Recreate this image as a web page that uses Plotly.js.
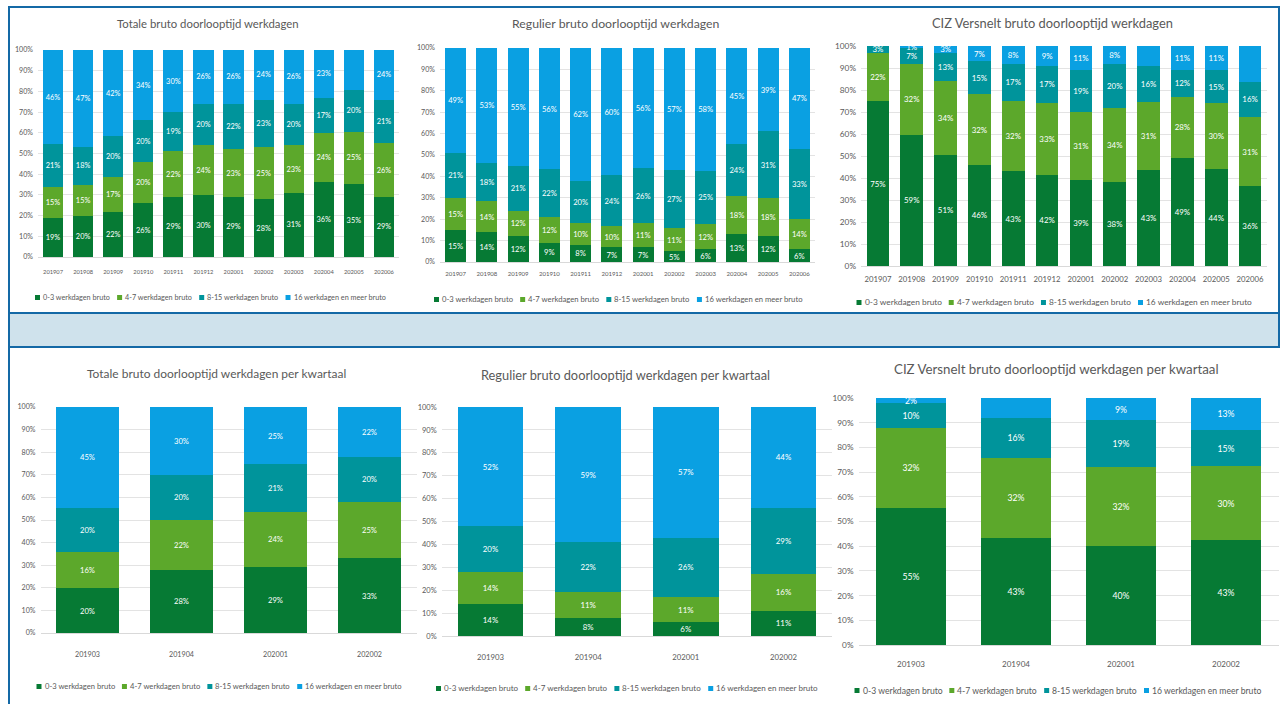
<!DOCTYPE html>
<html><head><meta charset="utf-8">
<script src="https://cdn.plot.ly/plotly-3.0.1.min.js"></script>
<style>html,body{margin:0;padding:0;background:#fff}#chart{width:1283px;height:704px}</style>
</head><body><div id="chart"></div>
<script>
// ---------- DATA ----------
const seriesNames = ['0-3 werkdagen bruto', '4-7 werkdagen bruto', '8-15 werkdagen bruto', '16 werkdagen en meer bruto'];
const months = ['201907','201908','201909','201910','201911','201912','202001','202002','202003','202004','202005','202006'];
const quarters = ['201903','201904','202001','202002'];

const titles = [
  'Totale bruto doorlooptijd werkdagen',
  'Regulier bruto doorlooptijd werkdagen',
  'CIZ Versnelt bruto doorlooptijd werkdagen',
  'Totale bruto doorlooptijd werkdagen per kwartaal',
  'Regulier bruto doorlooptijd werkdagen per kwartaal',
  'CIZ Versnelt bruto doorlooptijd werkdagen per kwartaal'
];

// Totale per maand
const totMnd03  = [19,20,22,26,29,30,29,28,31,36,35,29];
const totMnd47  = [15,15,17,20,22,24,23,25,23,24,25,26];
const totMnd815 = [21,18,20,20,19,20,22,23,20,17,20,21];
const totMnd16  = [46,47,42,34,30,26,26,24,26,23,19,24];
// Regulier per maand
const regMnd03  = [15,14,12,9,8,7,7,5,6,13,12,6];
const regMnd47  = [15,14,12,12,10,10,11,11,12,18,18,14];
const regMnd815 = [21,18,21,22,20,24,26,27,25,24,31,33];
const regMnd16  = [49,53,55,56,62,60,56,57,58,45,39,47];
// CIZ Versnelt per maand
const cizMnd03  = [75,59,51,46,43,42,39,38,43,49,44,36];
const cizMnd47  = [22,32,34,32,32,33,31,34,31,28,30,31];
const cizMnd815 = [3,7,13,15,17,17,19,20,16,12,15,16];
const cizMnd16  = [0,1,3,7,8,9,11,8,9,11,11,16];
// Totale per kwartaal
const totKw03  = [20,28,29,33];
const totKw47  = [16,22,24,25];
const totKw815 = [20,20,21,20];
const totKw16  = [45,30,25,22];
// Regulier per kwartaal
const regKw03  = [14,8,6,11];
const regKw47  = [14,11,11,16];
const regKw815 = [20,22,26,29];
const regKw16  = [52,59,57,44];
// CIZ Versnelt per kwartaal
const cizKw03  = [55,43,40,43];
const cizKw47  = [32,32,32,30];
const cizKw815 = [10,16,19,15];
const cizKw16  = [2,8,9,13];

// ---------- STYLE / LAYOUT ----------
const W = 1283, H = 704;
const colors = ['#067a34', '#5ca82b', '#00949b', '#0aa0e2'];
const FONT = 'Lato, "Open Sans", sans-serif';
const GREY = '#595959';

// box: plot area [left, top, right, bottom] px; title: [cx, cy, width px]; legend: [cx, cy, total width px]
// tw: widths (px) of text in the reference used to size fonts: y tick "100%", x tick label, bar label
const panels = [
  {cats: months,   series: [totMnd03, totMnd47, totMnd815, totMnd16], box: [38, 50, 399, 257],     title: [208, 24, 182],  legend: [210, 297, 350],  tw: [18, 20, 14.5], standoff: 9},
  {cats: months,   series: [regMnd03, regMnd47, regMnd815, regMnd16], box: [440, 48, 815, 262],    title: [616, 24, 208],  legend: [618, 299, 368],  tw: [18, 21, 15],   standoff: 6},
  {cats: months,   series: [cizMnd03, cizMnd47, cizMnd815, cizMnd16], box: [861, 46, 1267, 266],   title: [1052, 23, 242], legend: [1054, 302, 395], tw: [21, 27, 15.5], standoff: 6},
  {cats: quarters, series: [totKw03, totKw47, totKw815, totKw16],     box: [40.5, 407, 416.5, 633], title: [217, 373, 260],  legend: [219, 686, 365],  tw: [18, 25, 15],   standoff: 14},
  {cats: quarters, series: [regKw03, regKw47, regKw815, regKw16],     box: [441.7, 407, 832.3, 636], title: [625, 375, 290], legend: [627, 688, 382],  tw: [19, 27, 15.5], standoff: 14},
  {cats: quarters, series: [cizKw03, cizKw47, cizKw815, cizKw16],     box: [858.5, 398, 1278.5, 645], title: [1056, 369, 326], legend: [1058, 690, 407], tw: [21, 28, 17],   standoff: 11}
];

const px = x => x / W;
const py = y => 1 - y / H;

const ctx = document.createElement('canvas').getContext('2d');
const measure = (str, size) => { ctx.font = size + 'px Lato'; return ctx.measureText(str).width; };
const fit = (str, target) => 10 * target / measure(str, 10);

const data = [];
const layout = {
  width: W, height: H,
  margin: {l: 0, r: 0, t: 0, b: 0, autoexpand: false},
  paper_bgcolor: '#ffffff', plot_bgcolor: '#ffffff',
  barmode: 'stack', barnorm: 'percent', bargap: 0.33,
  font: {family: FONT, color: GREY},
  showlegend: false,
  annotations: [],
  shapes: []
};

panels.forEach((p, i) => {
  const n = i === 0 ? '' : String(i + 1);
  const xa = 'x' + n, ya = 'y' + n;
  const yfs = fit('100%', p.tw[0]);
  const xfs = fit(p.cats[0], p.tw[1]);
  const tfs = fit('45%', p.tw[2]);
  p.series.forEach((vals, s) => {
    data.push({
      type: 'bar', name: seriesNames[s], x: p.cats, y: vals,
      xaxis: xa, yaxis: ya,
      marker: {color: colors[s], line: {width: 0}},
      text: vals.map(v => v > 0 ? v + '%' : ''),
      textposition: 'inside', insidetextanchor: 'middle', textangle: 0,
      constraintext: 'none', cliponaxis: false,
      textfont: {family: FONT, size: tfs, color: '#ffffff'},
      hoverinfo: 'skip'
    });
  });
  const [l, t, r, b] = p.box;
  layout['xaxis' + n] = {
    type: 'category', domain: [px(l), px(r)], anchor: ya,
    showline: true, linecolor: '#d9d9d9', linewidth: 1,
    ticks: '', showgrid: false, zeroline: false, automargin: false,
    tickfont: {family: FONT, size: xfs, color: GREY},
    ticklabelstandoff: p.standoff, fixedrange: true
  };
  layout['yaxis' + n] = {
    domain: [py(b), py(t)], anchor: xa, range: [0, 100], dtick: 10,
    ticksuffix: '%', showgrid: true, gridcolor: '#e3e3e3', gridwidth: 1,
    zeroline: false, showline: false, ticks: '', automargin: false,
    tickfont: {family: FONT, size: yfs, color: GREY},
    ticklabelstandoff: 4, fixedrange: true
  };
  layout.annotations.push({
    text: titles[i], x: px(p.title[0]), y: py(p.title[1]), xref: 'paper', yref: 'paper',
    xanchor: 'center', yanchor: 'middle', showarrow: false,
    font: {family: FONT, size: fit(titles[i], p.title[2]), color: GREY}
  });

  // legend: coloured square + label per series, centred under the chart
  const [cx, cy, span] = p.legend;
  const sq = 5, gapSq = 2, gapItem = 8;
  const fixed = seriesNames.length * (sq + gapSq) + gapItem * (seriesNames.length - 1);
  const sum10 = seriesNames.reduce((a, s) => a + measure(s, 10), 0);
  const fs = 10 * (span - fixed) / sum10;
  const widths = seriesNames.map(s => measure(s, fs));
  let x = cx - span / 2;
  seriesNames.forEach((name, s) => {
    layout.shapes.push({type: 'rect', xref: 'paper', yref: 'paper',
      x0: px(x), x1: px(x + sq), y0: py(cy + sq / 2 + 0.5), y1: py(cy - sq / 2 + 0.5),
      fillcolor: colors[s], line: {width: 0}});
    layout.annotations.push({text: name, x: px(x + sq + gapSq), y: py(cy), xref: 'paper', yref: 'paper',
      xanchor: 'left', yanchor: 'middle', showarrow: false, borderpad: 0,
      font: {family: FONT, size: fs, color: GREY}});
    x += sq + gapSq + widths[s] + gapItem;
  });
});

// frame and separating band
const BLUE = '#1469a6';
const line = (x0, y0, x1, y1) => ({type: 'line', xref: 'paper', yref: 'paper', x0: px(x0), y0: py(y0), x1: px(x1), y1: py(y1), line: {color: BLUE, width: 2}});
layout.shapes.push({type: 'rect', xref: 'paper', yref: 'paper', x0: px(9), x1: px(1279), y0: py(346), y1: py(314), fillcolor: '#cfe2ec', line: {width: 0}, layer: 'below'});
layout.shapes.push(line(8, 7, 1280, 7));
layout.shapes.push(line(8, 313, 1280, 313));
layout.shapes.push(line(8, 347, 1280, 347));
layout.shapes.push(line(9, 7, 9, 704));
layout.shapes.push(line(1279, 7, 1279, 347));

Plotly.newPlot('chart', data, layout, {displayModeBar: false, staticPlot: true});
</script>
</body></html>
